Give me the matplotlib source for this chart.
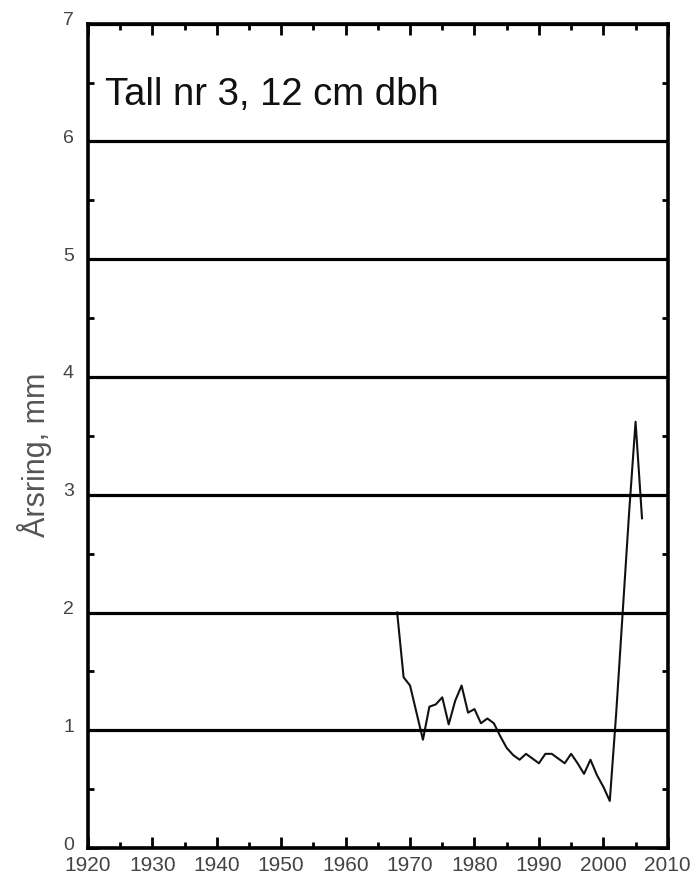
import numpy as np
import matplotlib.pyplot as plt
from matplotlib.ticker import MultipleLocator
from matplotlib.transforms import ScaledTranslation

plt.rcParams['font.family'] = ['Liberation Sans', 'DejaVu Sans']

# Årsringsbredd per år
years = list(range(1968, 2007))
ring_mm = [2.00, 1.45, 1.38, 1.15, 0.92, 1.20, 1.22, 1.28, 1.05, 1.25,
           1.38, 1.15, 1.18, 1.06, 1.10, 1.06, 0.95, 0.85, 0.79, 0.75,
           0.80, 0.76, 0.72, 0.80, 0.80, 0.76, 0.72, 0.80, 0.72, 0.63,
           0.75, 0.62, 0.52, 0.40, 1.15, 2.00, 2.85, 3.62, 2.80]

title_text = 'Tall nr 3, 12 cm dbh'
y_label = 'Årsring, mm'

fig = plt.figure(figsize=(6.92, 8.77), dpi=100)
ax = fig.add_axes([0.127, 0.033, 0.838, 0.94])

ax.plot(years, ring_mm, color='#111111', lw=1.5)

ax.set_xlim(1920, 2010)
ax.set_ylim(0, 7)
ax.xaxis.set_major_locator(MultipleLocator(10))
ax.xaxis.set_minor_locator(MultipleLocator(5))
ax.yaxis.set_major_locator(MultipleLocator(1))
ax.yaxis.set_minor_locator(MultipleLocator(0.5))

ax.grid(axis='y', which='major', color='black', lw=2.3)
ax.set_axisbelow(False)

for s in ax.spines.values():
    s.set_linewidth(2.6)

ax.tick_params(which='both', direction='in', top=True, right=True,
               width=2.0, labelcolor='#444444')
ax.tick_params(which='major', length=8)
ax.tick_params(which='minor', length=4.5)
ax.tick_params(axis='x', pad=6, labelsize=15)
ax.tick_params(axis='y', pad=10, labelsize=14)

# y-etiketterna sitter lite ovanför sina streck i originalet
lift = ScaledTranslation(0, 0.05, fig.dpi_scale_trans)
for lab in ax.get_yticklabels():
    lab.set_transform(lab.get_transform() + lift)

ax.text(0.03, 0.913, title_text, transform=ax.transAxes, fontsize=27.5,
        color='#111111', va='center', ha='left')

fig.text(0.05, 1 - 455 / 877, y_label, rotation=90, fontsize=22,
         color='#555555', ha='center', va='center')

fig.savefig('out.png', dpi=100)
